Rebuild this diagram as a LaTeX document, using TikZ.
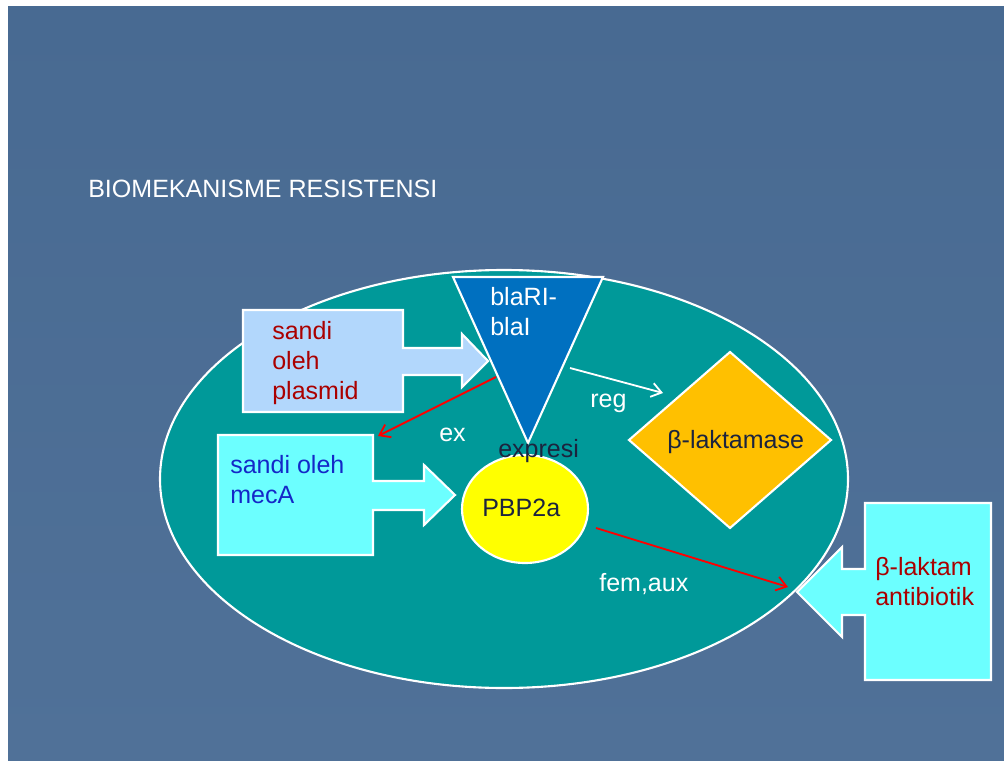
\documentclass[tikz,border=0pt]{standalone}
\usepackage{fontspec}
\setmainfont{Liberation Sans}
\usetikzlibrary{arrows.meta}

\definecolor{slide}{RGB}{80,113,152}
\definecolor{slidetop}{RGB}{72,106,146}
\definecolor{cell}{RGB}{0,153,153}
\definecolor{gene}{RGB}{0,112,192}
\definecolor{plasfill}{RGB}{178,215,252}
\definecolor{mecfill}{RGB}{108,255,255}
\definecolor{enzyme}{RGB}{255,192,0}
\definecolor{pbpfill}{RGB}{255,255,0}
\definecolor{redtext}{RGB}{170,0,0}
\definecolor{bluetext}{RGB}{20,40,200}
\definecolor{navytext}{RGB}{28,36,62}

\begin{document}
\begin{tikzpicture}[x=0.025cm,y=-0.025cm,
    outline/.style={draw=white, line width=1.5pt},
    txt/.style={font=\fontsize{17.8}{21}\selectfont, align=left, inner sep=0pt, anchor=base west},
    redarrow/.style={draw=red, line width=1.3pt, -{Straight Barb[length=7pt,width=10pt]}},
    whitearrow/.style={draw=white, line width=1.3pt, -{Straight Barb[length=7pt,width=10pt]}}]
        \useasboundingbox (0,0) rectangle (1004,761);
        \fill[white] (0,0) rectangle (1004,761);
        \shade[top color=slidetop, bottom color=slide] (8,7) rectangle (1004,761);
        \node[txt, white] (title) at (88,198) {BIOMEKANISME RESISTENSI};
        % cell
        \draw[outline, fill=cell] (504,479) ellipse [x radius=344, y radius=209];
        % callouts
        \draw[outline, fill=plasfill] (243,310) -- (403,310) -- (403,348) -- (462,348) -- (462,334) -- (488,361)
            -- (462,387) -- (462,375) -- (403,375) -- (403,412) -- (243,412) -- cycle;
        \draw[outline, fill=mecfill] (218,435) -- (373,435) -- (373,481) -- (424,481) -- (424,465) -- (455,495)
            -- (424,525) -- (424,510) -- (373,510) -- (373,555) -- (218,555) -- cycle;
        \draw[outline, fill=mecfill] (991,503) -- (865,503) -- (865,569) -- (842,569) -- (842,547) -- (797,592)
            -- (842,637) -- (842,615) -- (865,615) -- (865,680) -- (991,680) -- cycle;
        % genes and products
        \draw[outline, fill=gene] (453,277) -- (603,277) -- (528,443) -- cycle;
        \draw[outline, fill=enzyme] (730,352) -- (831,440) -- (730,528) -- (629,440) -- cycle;
        \draw[outline, fill=pbpfill] (525,509) ellipse [x radius=63, y radius=54];
        % labels (base = last line)
        \node[txt, redtext] (plasmid) at (272,399) {sandi\\oleh\\plasmid};
        \node[txt, bluetext] (mecA) at (230,503) {sandi oleh\\mecA};
        \node[txt, white] (bla) at (490,335) {blaRI-\\blaI};
        \node[txt, navytext] (pbp) at (482,516) {PBP2a};
        \node[txt, navytext] (expresi) at (498,457) {expresi};
        \node[txt, navytext] (lactamase) at (667,448) {β-laktamase};
        \node[txt, redtext] (antibiotic) at (875,605) {β-laktam\\antibiotik};
        \node[txt, white] (ex) at (439,441) {ex};
        \node[txt, white] (reg) at (590,407) {reg};
        \node[txt, white] (femaux) at (599,591) {fem,aux};
        % connectors
        \coordinate (blaout) at (496,377);
        \coordinate (mectop) at (378,436);
        \coordinate (blaside) at (570,368);
        \coordinate (lacleft) at (663,393);
        \coordinate (pbpout) at (596,528);
        \coordinate (cellrim) at (788,587);
        \draw[redarrow] (blaout) -- (mectop);
        \draw[whitearrow] (blaside) -- (lacleft);
        \draw[redarrow] (pbpout) -- (cellrim);
\end{tikzpicture}
\end{document}
